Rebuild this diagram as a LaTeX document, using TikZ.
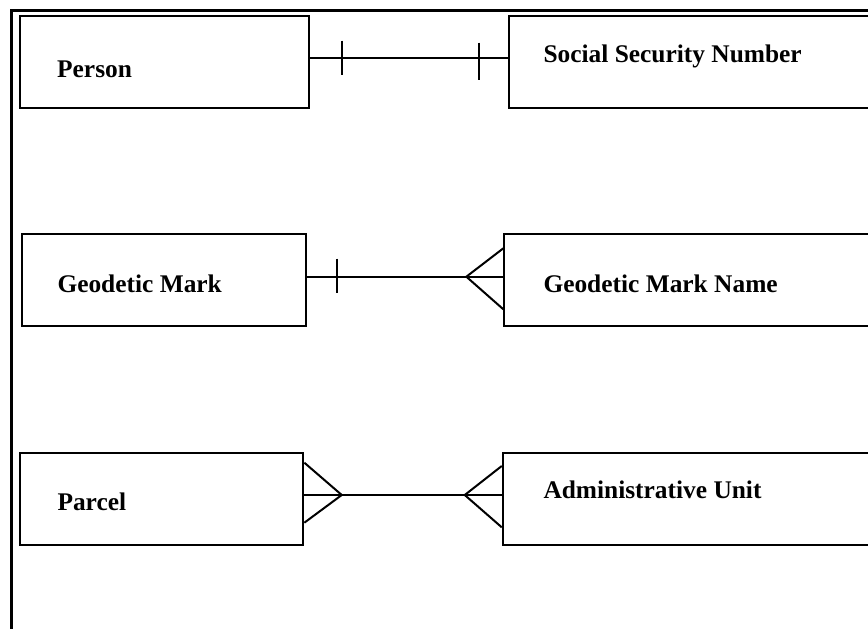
\documentclass[tikz,border=0pt]{standalone}
\usepackage{fontspec}
\setmainfont{Liberation Serif}
\usepackage{tikz}
\usetikzlibrary{calc}

\tikzset{
  entity/.style={draw, line width=2pt, minimum height=92pt, inner sep=0pt},
  entlabel/.style={anchor=base west, inner sep=0pt, font=\fontsize{25.4pt}{30pt}\selectfont\bfseries},
  rel/.style={line width=2pt},
}

\begin{document}
\begin{tikzpicture}[x=1pt,y=-1pt]
\clip (0,0) rectangle (868,629);
% Outer frame
\draw[line width=2.5pt] (11.7,640) -- (11.7,10.7) -- (880,10.7);

% Entity boxes
\node[entity, minimum width=289pt]   (person)  at (164.5,62)  {};
\node[entity, minimum width=391pt]   (ssn)     at (704.5,62)  {};
\node[entity, minimum width=283.7pt] (geo)     at (163.9,280.2) {};
\node[entity, minimum width=395.7pt] (geoname) at (702.2,280.2) {};
\node[entity, minimum width=283.3pt] (parcel)  at (161.7,499.2) {};
\node[entity, minimum width=397.3pt] (admin)   at (701.4,499.2) {};

% Entity names
\node[entlabel] (personlbl)  at (57,77)      {Person};
\node[entlabel] (ssnlbl)     at (543.3,62.3) {Social Security Number};
\node[entlabel] (geolbl)     at (57.3,292.3) {Geodetic Mark};
\node[entlabel] (geonamelbl) at (543.3,292.3) {Geodetic Mark Name};
\node[entlabel] (parcellbl)  at (57.3,510)   {Parcel};
\node[entlabel] (adminlbl)   at (543.3,498.3) {Administrative Unit};

% Relationship lines
\draw[rel] ([yshift=4.3pt]person.east) -- ([yshift=4.3pt]ssn.west);
\draw[rel] ([yshift=3.5pt]geo.east) -- ([yshift=3.5pt]geoname.west);
\draw[rel] ([yshift=4.2pt]parcel.east) -- ([yshift=4.2pt]admin.west);

% One (bar) marks
\draw[rel] ([xshift=32pt,yshift=4.3pt]person.east) ++(0,-17) -- ++(0,34);
\draw[rel] ([xshift=-28.6pt,yshift=4.3pt]ssn.west) ++(0,-15) -- ++(0,37);
\draw[rel] ([xshift=30.3pt,yshift=3.5pt]geo.east) ++(0,-18) -- ++(0,34);

% Many (crow's foot) marks
\draw[rel] ([yshift=31.9pt]geoname.west) -- ([xshift=-37pt,yshift=3.5pt]geoname.west)
           -- ([yshift=-29.1pt]geoname.west);
\draw[rel] ([yshift=36.5pt]parcel.east) -- ([xshift=37.4pt,yshift=4.2pt]parcel.east)
           -- ([yshift=-23.5pt]parcel.east);
\draw[rel] ([yshift=33.2pt]admin.west) -- ([xshift=-37pt,yshift=4.2pt]admin.west)
           -- ([yshift=-28.1pt]admin.west);
\end{tikzpicture}
\end{document}
